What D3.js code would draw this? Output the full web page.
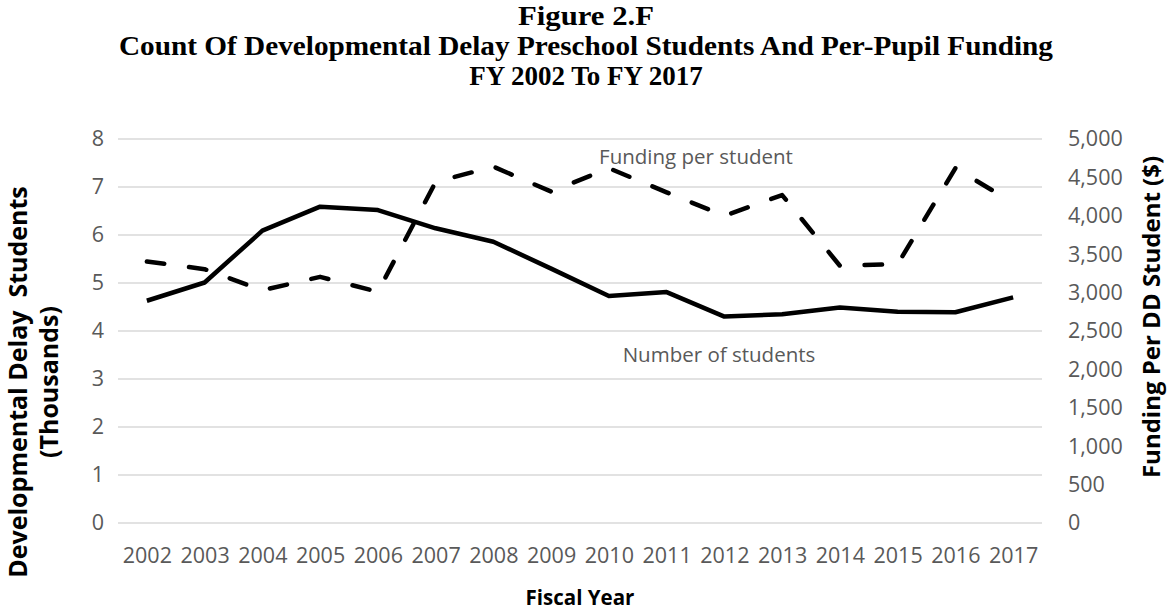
<!DOCTYPE html>
<html>
<head>
<meta charset="utf-8">
<script src="https://cdn.jsdelivr.net/npm/d3@7/dist/d3.min.js"></script>
<style>
  html, body { margin: 0; padding: 0; background: #fff; }
  svg { display: block; }
</style>
</head>
<body>
<svg id="chart" width="1172" height="613"></svg>
<script>
const years = ["2002","2003","2004","2005","2006","2007","2008","2009","2010","2011","2012","2013","2014","2015","2016","2017"];
const students = [4.63, 5.01, 6.09, 6.59, 6.52, 6.14, 5.86, 5.30, 4.73, 4.81, 4.30, 4.35, 4.49, 4.40, 4.39, 4.70];
const funding = [3405, 3305, 3030, 3205, 3010, 4440, 4640, 4315, 4620, 4305, 4000, 4270, 3350, 3370, 4620, 4170];
const leftTicks = [0, 1, 2, 3, 4, 5, 6, 7, 8];
const rightTicks = [0, 500, 1000, 1500, 2000, 2500, 3000, 3500, 4000, 4500, 5000];
const titleLines = ["Figure 2.F", "Count Of Developmental Delay Preschool Students And Per-Pupil Funding", "FY 2002 To FY 2017"];
const leftTitle = ["Developmental Delay\u00a0\u00a0Students", "(Thousands)"];
const rightTitle = "Funding Per DD Student ($)";
const xTitle = "Fiscal Year";
const seriesLabels = ["Funding per student", "Number of students"];

const svg = d3.select("#chart");
const plotL = 118, plotR = 1042, plotT = 139, plotB = 523;

const x = d3.scalePoint().domain(years).range([plotL, plotR]).padding(0.5);
const yL = d3.scaleLinear().domain([0, 8]).range([plotB, plotT]);
const yR = d3.scaleLinear().domain([0, 5000]).range([plotB, plotT]);

const grey = "#595959";
const sans = "'Open Sans', 'Noto Sans', sans-serif";

// Title
const tl = svg.append("g").selectAll("text").data(titleLines).join("text")
  .attr("x", 586)
  .attr("y", (d, i) => 25 + i * 30)
  .attr("text-anchor", "middle")
  .attr("font-family", "'Liberation Serif', 'Times New Roman', serif")
  .attr("font-weight", "bold")
  .attr("font-size", 27)
  .attr("fill", "#000")
  .text(d => d);
tl.filter((d, i) => i === 1).attr("textLength", 934).attr("lengthAdjust", "spacingAndGlyphs");
tl.filter((d, i) => i === 0).attr("textLength", 136).attr("lengthAdjust", "spacingAndGlyphs");

// Gridlines
svg.append("g").selectAll("line").data(leftTicks).join("line")
  .attr("x1", plotL).attr("x2", plotR)
  .attr("y1", d => yL(d)).attr("y2", d => yL(d))
  .attr("stroke", "#d9d9d9").attr("stroke-width", 1.5);

// Left axis
const axL = svg.append("g").attr("transform", `translate(${plotL - 14},0)`)
  .call(d3.axisLeft(yL).tickValues(leftTicks).tickSize(0).tickPadding(0).tickFormat(d3.format("d")));
axL.select(".domain").remove();
axL.selectAll("text").attr("font-family", sans).attr("font-size", 21.5).attr("fill", grey);

// Right axis
const axR = svg.append("g").attr("transform", `translate(${plotR + 26},0)`)
  .call(d3.axisRight(yR).tickValues(rightTicks).tickSize(0).tickPadding(0).tickFormat(d3.format(",")));
axR.select(".domain").remove();
axR.selectAll("text").attr("font-family", sans).attr("font-size", 21.5).attr("fill", grey);

// X axis
const axX = svg.append("g").attr("transform", `translate(0,${plotB + 24})`)
  .call(d3.axisBottom(x).tickSize(0).tickPadding(0));
axX.select(".domain").remove();
axX.selectAll("text").attr("font-family", sans).attr("font-size", 21.5).attr("fill", grey).attr("dy", "0.75em");

// Lines
const lineS = d3.line().x((d, i) => x(years[i])).y(d => yL(d));
const lineF = d3.line().x((d, i) => x(years[i])).y(d => yR(d));

svg.append("path").datum(funding)
  .attr("d", lineF).attr("fill", "none").attr("stroke", "#000")
  .attr("stroke-width", 4.5).attr("stroke-linecap", "round").attr("stroke-linejoin", "round")
  .attr("stroke-dasharray", "17.5,25");

svg.append("path").datum(students)
  .attr("d", lineS).attr("fill", "none").attr("stroke", "#000")
  .attr("stroke-width", 4.5).attr("stroke-linejoin", "round");

// Series labels
svg.append("text").attr("x", 696).attr("y", 164).attr("text-anchor", "middle")
  .attr("font-family", sans).attr("font-size", 20.5).attr("fill", grey).text(seriesLabels[0]);
svg.append("text").attr("x", 719).attr("y", 362).attr("text-anchor", "middle")
  .attr("font-family", sans).attr("font-size", 20.5).attr("fill", grey).text(seriesLabels[1]);

// Axis titles
const lt = svg.append("text")
  .attr("transform", "translate(0,382) rotate(-90)")
  .attr("text-anchor", "middle")
  .attr("font-family", sans).attr("font-weight", "bold").attr("font-size", 25).attr("fill", "#000");
lt.selectAll("tspan").data(leftTitle).join("tspan")
  .attr("x", 0).attr("y", (d, i) => 27 + i * 31).text(d => d);

svg.append("text")
  .attr("transform", "translate(1160,317) rotate(-90)")
  .attr("text-anchor", "middle")
  .attr("font-family", sans).attr("font-weight", "bold").attr("font-size", 24).attr("fill", "#000")
  .text(rightTitle);

svg.append("text").attr("x", 580).attr("y", 605).attr("text-anchor", "middle")
  .attr("font-family", sans).attr("font-weight", "bold").attr("font-size", 20.5).attr("fill", "#000")
  .text(xTitle);
</script>
</body>
</html>
